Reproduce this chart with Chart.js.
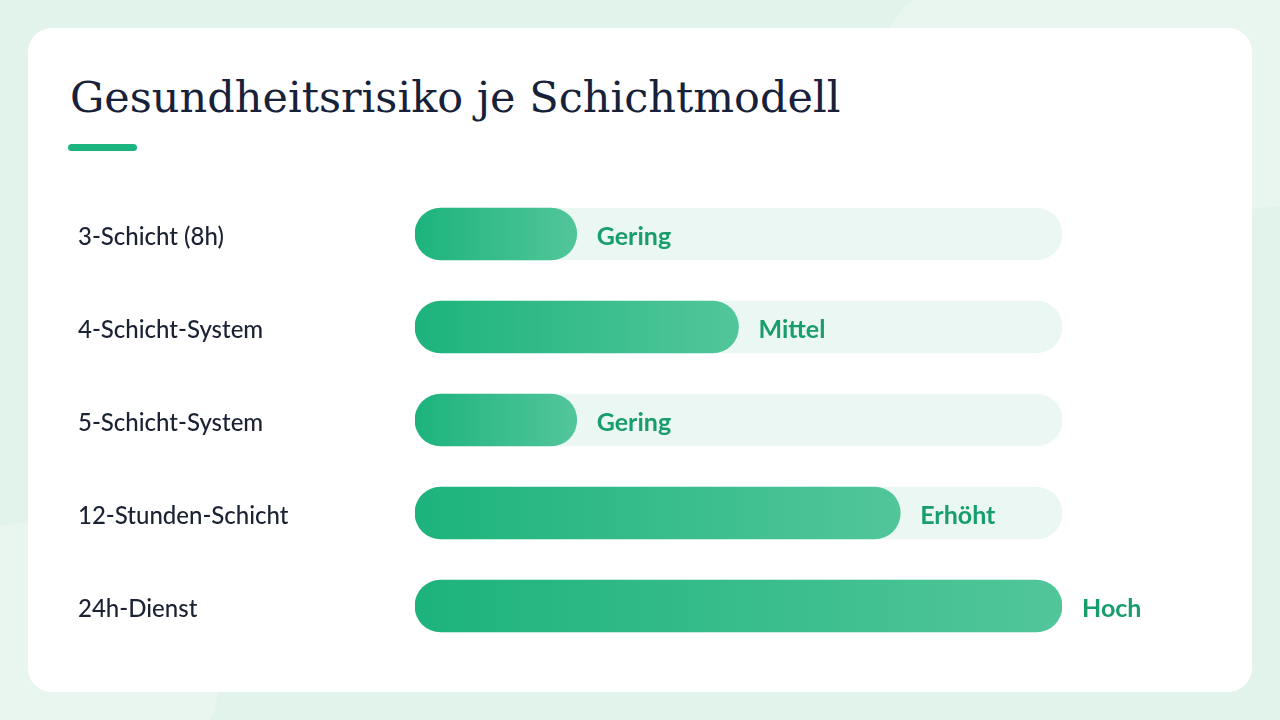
<!DOCTYPE html>
<html><head><meta charset="utf-8">
<script src="https://cdn.jsdelivr.net/npm/chart.js@4"></script>
<style>
html,body{margin:0;padding:0;width:1280px;height:720px;overflow:hidden;background:#e2f3eb;font-family:Lato,"Noto Sans",sans-serif;}
.blob1{position:absolute;left:880px;top:-40px;width:520px;height:260px;border-radius:120px 0 0 200px;background:#e9f6f0;transform:rotate(-6deg);}
.blob2{position:absolute;left:-120px;top:520px;width:340px;height:300px;border-radius:50%;background:#e9f6f0;}
.card{position:absolute;left:28px;top:28px;width:1224px;height:664px;background:#fff;border-radius:24px;}
h1{position:absolute;left:70px;top:72px;margin:0;font-family:"DejaVu Serif",serif;font-weight:400;font-size:43px;color:#17223a;letter-spacing:0px;white-space:nowrap;}
.accent{position:absolute;left:68px;top:144px;width:69px;height:7px;border-radius:4px;background:#1db57f;}
canvas{position:absolute;left:0;top:0;}
</style></head>
<body>
<div class="blob1"></div><div class="blob2"></div>
<div class="card"></div>
<h1 id="title">Gesundheitsrisiko je Schichtmodell</h1>
<div class="accent"></div>
<div style="position:absolute;left:0;top:0;width:1280px;height:720px;"><canvas id="c"></canvas></div>
<script>
const categories = ["3-Schicht (8h)","4-Schicht-System","5-Schicht-System","12-Stunden-Schicht","24h-Dienst"];
const riskValues = [1,2,1,3,4];
const riskLabels = ["Gering","Mittel","Gering","Erhöht","Hoch"];
const maxLevel = 4;
const trackValues = categories.map(()=>maxLevel);

function barGradient(ctx){
  const chart = ctx.chart;
  if(!chart.chartArea) return '#1db57f';
  const xs = chart.scales.x;
  const x0 = xs.getPixelForValue(0);
  const x1 = xs.getPixelForValue(riskValues[ctx.dataIndex]);
  const g = chart.ctx.createLinearGradient(x0,0,x1,0);
  g.addColorStop(0,'#1db37d');
  g.addColorStop(1,'#52c69b');
  return g;
}

const valueLabelPlugin = {
  id:'valueLabels',
  afterDatasetsDraw(chart){
    const c = chart.ctx;
    const meta = chart.getDatasetMeta(0);
    c.save();
    c.font = 'bold 25px Lato, "Noto Sans", sans-serif';
    c.fillStyle = '#179e6c';
    c.textBaseline = 'middle';
    c.textAlign = 'left';
    meta.data.forEach((bar,i)=>{
      c.fillText(riskLabels[i], bar.x + 20, bar.y + 3);
    });
    c.restore();
  }
};

new Chart(document.getElementById('c'),{
  type:'bar',
  data:{
    labels:categories,
    datasets:[
      {data:riskValues, backgroundColor:barGradient, borderRadius:26, borderSkipped:false, barThickness:52, grouped:false},
      {data:trackValues, backgroundColor:'#ebf7f2', borderRadius:26, borderSkipped:false, barThickness:52, grouped:false}
    ]
  },
  options:{
    indexAxis:'y',
    responsive:true,
    maintainAspectRatio:false,
    animation:false,
    layout:{padding:{left:78,right:218,top:187.5,bottom:67.5}},
    plugins:{legend:{display:false},tooltip:{enabled:false}},
    scales:{
      x:{display:false,min:0,max:maxLevel},
      y:{
        grid:{display:false},
        border:{display:false},
        afterFit(s){s.width = 337;},
        ticks:{crossAlign:'far',color:'#1b2233',padding:0,labelOffset:3,font:{family:'Lato, "Noto Sans", sans-serif',size:24,weight:'500'}}
      }
    }
  },
  plugins:[valueLabelPlugin]
});
</script>
</body></html>
